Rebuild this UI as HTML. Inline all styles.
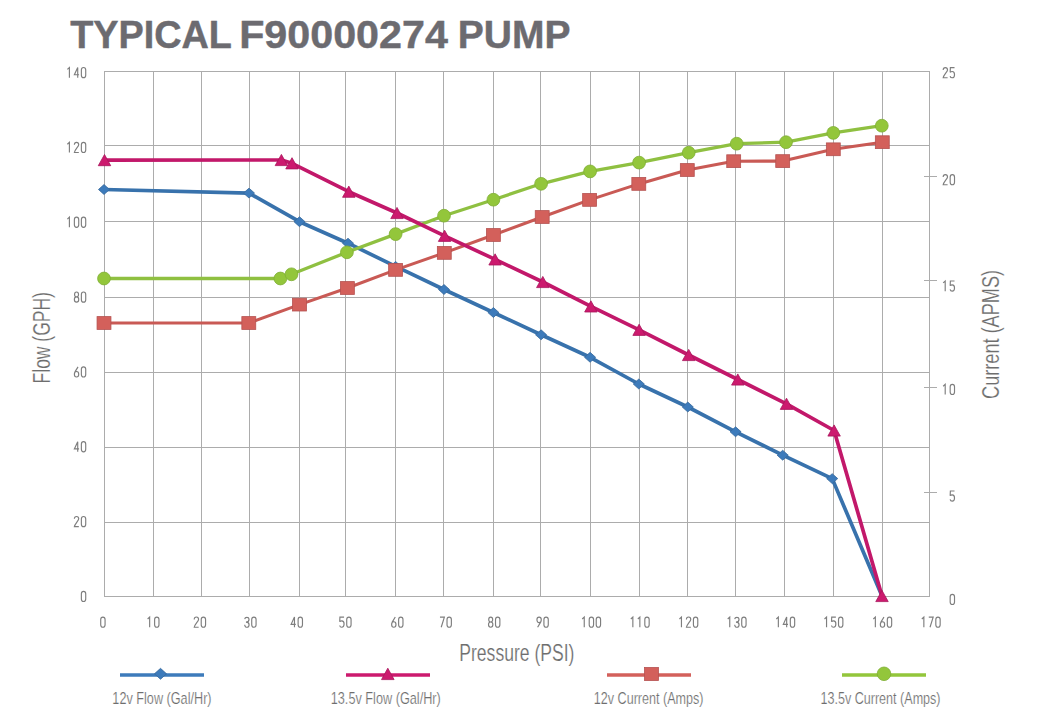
<!DOCTYPE html>
<html><head><meta charset="utf-8"><style>
html,body{margin:0;padding:0;background:#fff;width:1043px;height:727px;overflow:hidden}
svg{display:block;font-family:"Liberation Sans",sans-serif}
</style></head><body>
<svg width="1043" height="727" viewBox="0 0 1043 727">
<text transform="translate(70.13 47.80) scale(0.9596 1)" font-size="39.40" fill="#6c6b70" font-weight="bold" stroke="#6c6b70" stroke-width="0.45">TYPICAL</text><text transform="translate(239.14 47.80) scale(1.0472 1)" font-size="39.40" fill="#6c6b70" font-weight="bold" stroke="#6c6b70" stroke-width="0.45">F90000274</text><text transform="translate(457.79 47.80) scale(0.9904 1)" font-size="39.40" fill="#6c6b70" font-weight="bold" stroke="#6c6b70" stroke-width="0.45">PUMP</text>
<g stroke="#acacac" stroke-width="1" shape-rendering="crispEdges"><line x1="104.5" y1="71" x2="104.5" y2="597"/><line x1="153.5" y1="71" x2="153.5" y2="597"/><line x1="201.5" y1="71" x2="201.5" y2="597"/><line x1="249.5" y1="71" x2="249.5" y2="597"/><line x1="299.5" y1="71" x2="299.5" y2="597"/><line x1="345.5" y1="71" x2="345.5" y2="597"/><line x1="395.5" y1="71" x2="395.5" y2="597"/><line x1="443.5" y1="71" x2="443.5" y2="597"/><line x1="493.5" y1="71" x2="493.5" y2="597"/><line x1="540.5" y1="71" x2="540.5" y2="597"/><line x1="590.5" y1="71" x2="590.5" y2="597"/><line x1="639.5" y1="71" x2="639.5" y2="597"/><line x1="687.5" y1="71" x2="687.5" y2="597"/><line x1="735.5" y1="71" x2="735.5" y2="597"/><line x1="784.5" y1="71" x2="784.5" y2="597"/><line x1="833.5" y1="71" x2="833.5" y2="597"/><line x1="882.5" y1="71" x2="882.5" y2="597"/><line x1="929.5" y1="71" x2="929.5" y2="597"/><line x1="104" y1="71.5" x2="930" y2="71.5"/><line x1="104" y1="145.5" x2="930" y2="145.5"/><line x1="104" y1="221.5" x2="930" y2="221.5"/><line x1="104" y1="297.5" x2="930" y2="297.5"/><line x1="104" y1="372.5" x2="930" y2="372.5"/><line x1="104" y1="447.5" x2="930" y2="447.5"/><line x1="104" y1="522.5" x2="930" y2="522.5"/><line x1="104" y1="596.5" x2="930" y2="596.5"/><line x1="924" y1="176.5" x2="937" y2="176.5"/><line x1="924" y1="280.5" x2="937" y2="280.5"/><line x1="924" y1="387.5" x2="937" y2="387.5"/><line x1="924" y1="492.5" x2="937" y2="492.5"/></g>
<g transform="translate(66.80 66.95) scale(1.0000 1) translate(0.00 0)" fill="none" stroke="#7e7e7e" stroke-width="1.15" stroke-linecap="butt" stroke-linejoin="miter"><path transform="translate(0 0)" d="M 0.57 2.5 L 2.6 0.57 L 2.6 10.73"/><path transform="translate(7 0)" d="M 3.92 10.73 L 3.92 0.57 L 0.57 7.8 L 5.27 7.8"/><path transform="translate(14 0)" d="M 0.57 3.08 A 2.17 2.5 0 0 1 4.92 3.08 L 4.92 8.23 A 2.17 2.5 0 0 1 0.57 8.23 Z"/></g><g transform="translate(66.80 141.78) scale(1.0000 1) translate(0.00 0)" fill="none" stroke="#7e7e7e" stroke-width="1.15" stroke-linecap="butt" stroke-linejoin="miter"><path transform="translate(0 0)" d="M 0.57 2.5 L 2.6 0.57 L 2.6 10.73"/><path transform="translate(7 0)" d="M 0.57 2.9 A 2.17 2.35 0 0 1 4.92 2.9 C 4.92 4.6 0.97 8 0.57 10.73 L 5.02 10.73"/><path transform="translate(14 0)" d="M 0.57 3.08 A 2.17 2.5 0 0 1 4.92 3.08 L 4.92 8.23 A 2.17 2.5 0 0 1 0.57 8.23 Z"/></g><g transform="translate(66.80 216.61) scale(1.0000 1) translate(0.00 0)" fill="none" stroke="#7e7e7e" stroke-width="1.15" stroke-linecap="butt" stroke-linejoin="miter"><path transform="translate(0 0)" d="M 0.57 2.5 L 2.6 0.57 L 2.6 10.73"/><path transform="translate(7 0)" d="M 0.57 3.08 A 2.17 2.5 0 0 1 4.92 3.08 L 4.92 8.23 A 2.17 2.5 0 0 1 0.57 8.23 Z"/><path transform="translate(14 0)" d="M 0.57 3.08 A 2.17 2.5 0 0 1 4.92 3.08 L 4.92 8.23 A 2.17 2.5 0 0 1 0.57 8.23 Z"/></g><g transform="translate(73.80 291.44) scale(1.0000 1) translate(0.00 0)" fill="none" stroke="#7e7e7e" stroke-width="1.15" stroke-linecap="butt" stroke-linejoin="miter"><path transform="translate(0 0)" d="M 2.75 5.5 A 1.97 2.45 0 0 1 2.75 0.57 A 1.97 2.45 0 0 1 2.75 5.5 Z M 2.75 5.5 A 2.17 2.6 0 0 1 2.75 10.73 A 2.17 2.6 0 0 1 2.75 5.5 Z"/><path transform="translate(7 0)" d="M 0.57 3.08 A 2.17 2.5 0 0 1 4.92 3.08 L 4.92 8.23 A 2.17 2.5 0 0 1 0.57 8.23 Z"/></g><g transform="translate(73.80 366.27) scale(1.0000 1) translate(0.00 0)" fill="none" stroke="#7e7e7e" stroke-width="1.15" stroke-linecap="butt" stroke-linejoin="miter"><path transform="translate(0 0)" d="M 4.22 0.57 L 1.02 5.9 M 2.75 10.73 A 2.17 2.75 0 0 1 2.75 5.23 A 2.17 2.75 0 0 1 2.75 10.73 Z"/><path transform="translate(7 0)" d="M 0.57 3.08 A 2.17 2.5 0 0 1 4.92 3.08 L 4.92 8.23 A 2.17 2.5 0 0 1 0.57 8.23 Z"/></g><g transform="translate(73.80 441.10) scale(1.0000 1) translate(0.00 0)" fill="none" stroke="#7e7e7e" stroke-width="1.15" stroke-linecap="butt" stroke-linejoin="miter"><path transform="translate(0 0)" d="M 3.92 10.73 L 3.92 0.57 L 0.57 7.8 L 5.27 7.8"/><path transform="translate(7 0)" d="M 0.57 3.08 A 2.17 2.5 0 0 1 4.92 3.08 L 4.92 8.23 A 2.17 2.5 0 0 1 0.57 8.23 Z"/></g><g transform="translate(73.80 515.93) scale(1.0000 1) translate(0.00 0)" fill="none" stroke="#7e7e7e" stroke-width="1.15" stroke-linecap="butt" stroke-linejoin="miter"><path transform="translate(0 0)" d="M 0.57 2.9 A 2.17 2.35 0 0 1 4.92 2.9 C 4.92 4.6 0.97 8 0.57 10.73 L 5.02 10.73"/><path transform="translate(7 0)" d="M 0.57 3.08 A 2.17 2.5 0 0 1 4.92 3.08 L 4.92 8.23 A 2.17 2.5 0 0 1 0.57 8.23 Z"/></g><g transform="translate(80.80 590.76) scale(1.0000 1) translate(0.00 0)" fill="none" stroke="#7e7e7e" stroke-width="1.15" stroke-linecap="butt" stroke-linejoin="miter"><path transform="translate(0 0)" d="M 0.57 3.08 A 2.17 2.5 0 0 1 4.92 3.08 L 4.92 8.23 A 2.17 2.5 0 0 1 0.57 8.23 Z"/></g><g transform="translate(942.60 67.05) scale(1.0000 1) translate(0.00 0)" fill="none" stroke="#7e7e7e" stroke-width="1.15" stroke-linecap="butt" stroke-linejoin="miter"><path transform="translate(0 0)" d="M 0.57 2.9 A 2.17 2.35 0 0 1 4.92 2.9 C 4.92 4.6 0.97 8 0.57 10.73 L 5.02 10.73"/><path transform="translate(7 0)" d="M 4.92 0.57 L 0.77 0.57 L 0.57 5.3 C 0.9 4.7 1.9 4.4 2.7 4.4 C 4 4.4 4.92 5.5 4.92 7.6 C 4.92 9.7 4 10.73 2.6 10.73 C 1.6 10.73 0.77 10.2 0.52 9"/></g><g transform="translate(942.60 174.05) scale(1.0000 1) translate(0.00 0)" fill="none" stroke="#7e7e7e" stroke-width="1.15" stroke-linecap="butt" stroke-linejoin="miter"><path transform="translate(0 0)" d="M 0.57 2.9 A 2.17 2.35 0 0 1 4.92 2.9 C 4.92 4.6 0.97 8 0.57 10.73 L 5.02 10.73"/><path transform="translate(7 0)" d="M 0.57 3.08 A 2.17 2.5 0 0 1 4.92 3.08 L 4.92 8.23 A 2.17 2.5 0 0 1 0.57 8.23 Z"/></g><g transform="translate(942.60 280.45) scale(1.0000 1) translate(0.00 0)" fill="none" stroke="#7e7e7e" stroke-width="1.15" stroke-linecap="butt" stroke-linejoin="miter"><path transform="translate(0 0)" d="M 0.57 2.5 L 2.6 0.57 L 2.6 10.73"/><path transform="translate(7 0)" d="M 4.92 0.57 L 0.77 0.57 L 0.57 5.3 C 0.9 4.7 1.9 4.4 2.7 4.4 C 4 4.4 4.92 5.5 4.92 7.6 C 4.92 9.7 4 10.73 2.6 10.73 C 1.6 10.73 0.77 10.2 0.52 9"/></g><g transform="translate(942.60 383.75) scale(1.0000 1) translate(0.00 0)" fill="none" stroke="#7e7e7e" stroke-width="1.15" stroke-linecap="butt" stroke-linejoin="miter"><path transform="translate(0 0)" d="M 0.57 2.5 L 2.6 0.57 L 2.6 10.73"/><path transform="translate(7 0)" d="M 0.57 3.08 A 2.17 2.5 0 0 1 4.92 3.08 L 4.92 8.23 A 2.17 2.5 0 0 1 0.57 8.23 Z"/></g><g transform="translate(949.60 490.45) scale(1.0000 1) translate(0.00 0)" fill="none" stroke="#7e7e7e" stroke-width="1.15" stroke-linecap="butt" stroke-linejoin="miter"><path transform="translate(0 0)" d="M 4.92 0.57 L 0.77 0.57 L 0.57 5.3 C 0.9 4.7 1.9 4.4 2.7 4.4 C 4 4.4 4.92 5.5 4.92 7.6 C 4.92 9.7 4 10.73 2.6 10.73 C 1.6 10.73 0.77 10.2 0.52 9"/></g><g transform="translate(949.60 593.75) scale(1.0000 1) translate(0.00 0)" fill="none" stroke="#7e7e7e" stroke-width="1.15" stroke-linecap="butt" stroke-linejoin="miter"><path transform="translate(0 0)" d="M 0.57 3.08 A 2.17 2.5 0 0 1 4.92 3.08 L 4.92 8.23 A 2.17 2.5 0 0 1 0.57 8.23 Z"/></g><g transform="translate(100.15 616.50) scale(1.0000 1) translate(0.00 0)" fill="none" stroke="#7e7e7e" stroke-width="1.15" stroke-linecap="butt" stroke-linejoin="miter"><path transform="translate(0 0)" d="M 0.57 3.08 A 2.17 2.5 0 0 1 4.92 3.08 L 4.92 8.23 A 2.17 2.5 0 0 1 0.57 8.23 Z"/></g><g transform="translate(147.05 616.50) scale(1.0000 1) translate(0.00 0)" fill="none" stroke="#7e7e7e" stroke-width="1.15" stroke-linecap="butt" stroke-linejoin="miter"><path transform="translate(0 0)" d="M 0.57 2.5 L 2.6 0.57 L 2.6 10.73"/><path transform="translate(7 0)" d="M 0.57 3.08 A 2.17 2.5 0 0 1 4.92 3.08 L 4.92 8.23 A 2.17 2.5 0 0 1 0.57 8.23 Z"/></g><g transform="translate(193.65 616.50) scale(1.0000 1) translate(0.00 0)" fill="none" stroke="#7e7e7e" stroke-width="1.15" stroke-linecap="butt" stroke-linejoin="miter"><path transform="translate(0 0)" d="M 0.57 2.9 A 2.17 2.35 0 0 1 4.92 2.9 C 4.92 4.6 0.97 8 0.57 10.73 L 5.02 10.73"/><path transform="translate(7 0)" d="M 0.57 3.08 A 2.17 2.5 0 0 1 4.92 3.08 L 4.92 8.23 A 2.17 2.5 0 0 1 0.57 8.23 Z"/></g><g transform="translate(244.15 616.50) scale(1.0000 1) translate(0.00 0)" fill="none" stroke="#7e7e7e" stroke-width="1.15" stroke-linecap="butt" stroke-linejoin="miter"><path transform="translate(0 0)" d="M 0.57 2.6 A 2.17 2.05 0 0 1 4.88 2.65 C 4.88 4.6 3.6 5.65 1.8 5.65 M 1.8 5.65 C 3.8 5.65 4.92 6.3 4.92 8.2 A 2.17 2.5 0 0 1 0.57 8.3"/><path transform="translate(7 0)" d="M 0.57 3.08 A 2.17 2.5 0 0 1 4.92 3.08 L 4.92 8.23 A 2.17 2.5 0 0 1 0.57 8.23 Z"/></g><g transform="translate(290.55 616.50) scale(1.0000 1) translate(0.00 0)" fill="none" stroke="#7e7e7e" stroke-width="1.15" stroke-linecap="butt" stroke-linejoin="miter"><path transform="translate(0 0)" d="M 3.92 10.73 L 3.92 0.57 L 0.57 7.8 L 5.27 7.8"/><path transform="translate(7 0)" d="M 0.57 3.08 A 2.17 2.5 0 0 1 4.92 3.08 L 4.92 8.23 A 2.17 2.5 0 0 1 0.57 8.23 Z"/></g><g transform="translate(339.15 616.50) scale(1.0000 1) translate(0.00 0)" fill="none" stroke="#7e7e7e" stroke-width="1.15" stroke-linecap="butt" stroke-linejoin="miter"><path transform="translate(0 0)" d="M 4.92 0.57 L 0.77 0.57 L 0.57 5.3 C 0.9 4.7 1.9 4.4 2.7 4.4 C 4 4.4 4.92 5.5 4.92 7.6 C 4.92 9.7 4 10.73 2.6 10.73 C 1.6 10.73 0.77 10.2 0.52 9"/><path transform="translate(7 0)" d="M 0.57 3.08 A 2.17 2.5 0 0 1 4.92 3.08 L 4.92 8.23 A 2.17 2.5 0 0 1 0.57 8.23 Z"/></g><g transform="translate(391.05 616.50) scale(1.0000 1) translate(0.00 0)" fill="none" stroke="#7e7e7e" stroke-width="1.15" stroke-linecap="butt" stroke-linejoin="miter"><path transform="translate(0 0)" d="M 4.22 0.57 L 1.02 5.9 M 2.75 10.73 A 2.17 2.75 0 0 1 2.75 5.23 A 2.17 2.75 0 0 1 2.75 10.73 Z"/><path transform="translate(7 0)" d="M 0.57 3.08 A 2.17 2.5 0 0 1 4.92 3.08 L 4.92 8.23 A 2.17 2.5 0 0 1 0.57 8.23 Z"/></g><g transform="translate(439.45 616.50) scale(1.0000 1) translate(0.00 0)" fill="none" stroke="#7e7e7e" stroke-width="1.15" stroke-linecap="butt" stroke-linejoin="miter"><path transform="translate(0 0)" d="M 0.52 0.57 L 4.92 0.57 L 1.77 10.73"/><path transform="translate(7 0)" d="M 0.57 3.08 A 2.17 2.5 0 0 1 4.92 3.08 L 4.92 8.23 A 2.17 2.5 0 0 1 0.57 8.23 Z"/></g><g transform="translate(487.95 616.50) scale(1.0000 1) translate(0.00 0)" fill="none" stroke="#7e7e7e" stroke-width="1.15" stroke-linecap="butt" stroke-linejoin="miter"><path transform="translate(0 0)" d="M 2.75 5.5 A 1.97 2.45 0 0 1 2.75 0.57 A 1.97 2.45 0 0 1 2.75 5.5 Z M 2.75 5.5 A 2.17 2.6 0 0 1 2.75 10.73 A 2.17 2.6 0 0 1 2.75 5.5 Z"/><path transform="translate(7 0)" d="M 0.57 3.08 A 2.17 2.5 0 0 1 4.92 3.08 L 4.92 8.23 A 2.17 2.5 0 0 1 0.57 8.23 Z"/></g><g transform="translate(536.35 616.50) scale(1.0000 1) translate(0.00 0)" fill="none" stroke="#7e7e7e" stroke-width="1.15" stroke-linecap="butt" stroke-linejoin="miter"><path transform="translate(0 0)" d="M 1.27 10.73 L 4.47 5.4 M 2.75 0.57 A 2.17 2.75 0 0 1 2.75 6.08 A 2.17 2.75 0 0 1 2.75 0.57 Z"/><path transform="translate(7 0)" d="M 0.57 3.08 A 2.17 2.5 0 0 1 4.92 3.08 L 4.92 8.23 A 2.17 2.5 0 0 1 0.57 8.23 Z"/></g><g transform="translate(581.65 616.50) scale(1.0000 1) translate(0.00 0)" fill="none" stroke="#7e7e7e" stroke-width="1.15" stroke-linecap="butt" stroke-linejoin="miter"><path transform="translate(0 0)" d="M 0.57 2.5 L 2.6 0.57 L 2.6 10.73"/><path transform="translate(7 0)" d="M 0.57 3.08 A 2.17 2.5 0 0 1 4.92 3.08 L 4.92 8.23 A 2.17 2.5 0 0 1 0.57 8.23 Z"/><path transform="translate(14 0)" d="M 0.57 3.08 A 2.17 2.5 0 0 1 4.92 3.08 L 4.92 8.23 A 2.17 2.5 0 0 1 0.57 8.23 Z"/></g><g transform="translate(630.25 616.50) scale(1.0000 1) translate(0.00 0)" fill="none" stroke="#7e7e7e" stroke-width="1.15" stroke-linecap="butt" stroke-linejoin="miter"><path transform="translate(0 0)" d="M 0.57 2.5 L 2.6 0.57 L 2.6 10.73"/><path transform="translate(7 0)" d="M 0.57 2.5 L 2.6 0.57 L 2.6 10.73"/><path transform="translate(14 0)" d="M 0.57 3.08 A 2.17 2.5 0 0 1 4.92 3.08 L 4.92 8.23 A 2.17 2.5 0 0 1 0.57 8.23 Z"/></g><g transform="translate(678.85 616.50) scale(1.0000 1) translate(0.00 0)" fill="none" stroke="#7e7e7e" stroke-width="1.15" stroke-linecap="butt" stroke-linejoin="miter"><path transform="translate(0 0)" d="M 0.57 2.5 L 2.6 0.57 L 2.6 10.73"/><path transform="translate(7 0)" d="M 0.57 2.9 A 2.17 2.35 0 0 1 4.92 2.9 C 4.92 4.6 0.97 8 0.57 10.73 L 5.02 10.73"/><path transform="translate(14 0)" d="M 0.57 3.08 A 2.17 2.5 0 0 1 4.92 3.08 L 4.92 8.23 A 2.17 2.5 0 0 1 0.57 8.23 Z"/></g><g transform="translate(727.15 616.50) scale(1.0000 1) translate(0.00 0)" fill="none" stroke="#7e7e7e" stroke-width="1.15" stroke-linecap="butt" stroke-linejoin="miter"><path transform="translate(0 0)" d="M 0.57 2.5 L 2.6 0.57 L 2.6 10.73"/><path transform="translate(7 0)" d="M 0.57 2.6 A 2.17 2.05 0 0 1 4.88 2.65 C 4.88 4.6 3.6 5.65 1.8 5.65 M 1.8 5.65 C 3.8 5.65 4.92 6.3 4.92 8.2 A 2.17 2.5 0 0 1 0.57 8.3"/><path transform="translate(14 0)" d="M 0.57 3.08 A 2.17 2.5 0 0 1 4.92 3.08 L 4.92 8.23 A 2.17 2.5 0 0 1 0.57 8.23 Z"/></g><g transform="translate(775.75 616.50) scale(1.0000 1) translate(0.00 0)" fill="none" stroke="#7e7e7e" stroke-width="1.15" stroke-linecap="butt" stroke-linejoin="miter"><path transform="translate(0 0)" d="M 0.57 2.5 L 2.6 0.57 L 2.6 10.73"/><path transform="translate(7 0)" d="M 3.92 10.73 L 3.92 0.57 L 0.57 7.8 L 5.27 7.8"/><path transform="translate(14 0)" d="M 0.57 3.08 A 2.17 2.5 0 0 1 4.92 3.08 L 4.92 8.23 A 2.17 2.5 0 0 1 0.57 8.23 Z"/></g><g transform="translate(823.95 616.50) scale(1.0000 1) translate(0.00 0)" fill="none" stroke="#7e7e7e" stroke-width="1.15" stroke-linecap="butt" stroke-linejoin="miter"><path transform="translate(0 0)" d="M 0.57 2.5 L 2.6 0.57 L 2.6 10.73"/><path transform="translate(7 0)" d="M 4.92 0.57 L 0.77 0.57 L 0.57 5.3 C 0.9 4.7 1.9 4.4 2.7 4.4 C 4 4.4 4.92 5.5 4.92 7.6 C 4.92 9.7 4 10.73 2.6 10.73 C 1.6 10.73 0.77 10.2 0.52 9"/><path transform="translate(14 0)" d="M 0.57 3.08 A 2.17 2.5 0 0 1 4.92 3.08 L 4.92 8.23 A 2.17 2.5 0 0 1 0.57 8.23 Z"/></g><g transform="translate(872.75 616.50) scale(1.0000 1) translate(0.00 0)" fill="none" stroke="#7e7e7e" stroke-width="1.15" stroke-linecap="butt" stroke-linejoin="miter"><path transform="translate(0 0)" d="M 0.57 2.5 L 2.6 0.57 L 2.6 10.73"/><path transform="translate(7 0)" d="M 4.22 0.57 L 1.02 5.9 M 2.75 10.73 A 2.17 2.75 0 0 1 2.75 5.23 A 2.17 2.75 0 0 1 2.75 10.73 Z"/><path transform="translate(14 0)" d="M 0.57 3.08 A 2.17 2.5 0 0 1 4.92 3.08 L 4.92 8.23 A 2.17 2.5 0 0 1 0.57 8.23 Z"/></g><g transform="translate(921.25 616.50) scale(1.0000 1) translate(0.00 0)" fill="none" stroke="#7e7e7e" stroke-width="1.15" stroke-linecap="butt" stroke-linejoin="miter"><path transform="translate(0 0)" d="M 0.57 2.5 L 2.6 0.57 L 2.6 10.73"/><path transform="translate(7 0)" d="M 0.52 0.57 L 4.92 0.57 L 1.77 10.73"/><path transform="translate(14 0)" d="M 0.57 3.08 A 2.17 2.5 0 0 1 4.92 3.08 L 4.92 8.23 A 2.17 2.5 0 0 1 0.57 8.23 Z"/></g><text transform="translate(49.90 383.43) rotate(-90) scale(0.7347 1)" font-size="23.80" fill="#6e6e6e" stroke="#fff" stroke-width="0.20">Flow (GPH)</text><text transform="translate(999.30 398.92) rotate(-90) scale(0.7688 1)" font-size="23.60" fill="#6e6e6e" stroke="#fff" stroke-width="0.20">Current (APMS)</text><text transform="translate(459.26 661.40) scale(0.7446 1)" font-size="23.60" fill="#6e6e6e" stroke="#fff" stroke-width="0.20">Pressure (PSI)</text>
<polyline points="104.00,189.50 249.00,193.10 299.50,221.70 348.00,243.20 395.60,266.40 444.00,289.50 493.40,312.50 541.10,334.80 590.10,357.30 638.80,384.00 687.80,407.00 735.60,431.80 782.70,455.20 832.20,478.60 882.00,596.00" fill="none" stroke="#3872ac" stroke-width="3.70" stroke-linejoin="round"/><path d="M104.00 184.56L109.54 189.50L104.00 194.44L98.46 189.50Z" fill="#3d7bbb" stroke="#36689c" stroke-width="0.80"/><path d="M249.00 188.16L254.54 193.10L249.00 198.04L243.46 193.10Z" fill="#3d7bbb" stroke="#36689c" stroke-width="0.80"/><path d="M299.50 216.76L305.04 221.70L299.50 226.64L293.96 221.70Z" fill="#3d7bbb" stroke="#36689c" stroke-width="0.80"/><path d="M348.00 238.26L353.54 243.20L348.00 248.14L342.46 243.20Z" fill="#3d7bbb" stroke="#36689c" stroke-width="0.80"/><path d="M395.60 261.46L401.14 266.40L395.60 271.34L390.06 266.40Z" fill="#3d7bbb" stroke="#36689c" stroke-width="0.80"/><path d="M444.00 284.56L449.54 289.50L444.00 294.44L438.46 289.50Z" fill="#3d7bbb" stroke="#36689c" stroke-width="0.80"/><path d="M493.40 307.56L498.94 312.50L493.40 317.44L487.86 312.50Z" fill="#3d7bbb" stroke="#36689c" stroke-width="0.80"/><path d="M541.10 329.86L546.64 334.80L541.10 339.74L535.56 334.80Z" fill="#3d7bbb" stroke="#36689c" stroke-width="0.80"/><path d="M590.10 352.36L595.64 357.30L590.10 362.24L584.56 357.30Z" fill="#3d7bbb" stroke="#36689c" stroke-width="0.80"/><path d="M638.80 379.06L644.34 384.00L638.80 388.94L633.26 384.00Z" fill="#3d7bbb" stroke="#36689c" stroke-width="0.80"/><path d="M687.80 402.06L693.34 407.00L687.80 411.94L682.26 407.00Z" fill="#3d7bbb" stroke="#36689c" stroke-width="0.80"/><path d="M735.60 426.86L741.14 431.80L735.60 436.74L730.06 431.80Z" fill="#3d7bbb" stroke="#36689c" stroke-width="0.80"/><path d="M782.70 450.26L788.24 455.20L782.70 460.14L777.16 455.20Z" fill="#3d7bbb" stroke="#36689c" stroke-width="0.80"/><path d="M832.20 473.66L837.74 478.60L832.20 483.54L826.66 478.60Z" fill="#3d7bbb" stroke="#36689c" stroke-width="0.80"/><polyline points="104.00,323.00 248.80,323.00 299.50,304.60 347.40,288.00 395.60,269.90 444.30,252.90 493.40,235.00 542.20,217.00 589.60,199.90 638.80,183.90 687.30,170.00 733.70,161.20 782.70,161.10 833.30,149.30 882.30,142.20" fill="none" stroke="#c95a55" stroke-width="3.10" stroke-linejoin="round"/><rect x="97.05" y="316.60" width="13.90" height="12.80" fill="#d3605b" stroke="#b55250" stroke-width="0.80"/><rect x="241.85" y="316.60" width="13.90" height="12.80" fill="#d3605b" stroke="#b55250" stroke-width="0.80"/><rect x="292.55" y="298.20" width="13.90" height="12.80" fill="#d3605b" stroke="#b55250" stroke-width="0.80"/><rect x="340.45" y="281.60" width="13.90" height="12.80" fill="#d3605b" stroke="#b55250" stroke-width="0.80"/><rect x="388.65" y="263.50" width="13.90" height="12.80" fill="#d3605b" stroke="#b55250" stroke-width="0.80"/><rect x="437.35" y="246.50" width="13.90" height="12.80" fill="#d3605b" stroke="#b55250" stroke-width="0.80"/><rect x="486.45" y="228.60" width="13.90" height="12.80" fill="#d3605b" stroke="#b55250" stroke-width="0.80"/><rect x="535.25" y="210.60" width="13.90" height="12.80" fill="#d3605b" stroke="#b55250" stroke-width="0.80"/><rect x="582.65" y="193.50" width="13.90" height="12.80" fill="#d3605b" stroke="#b55250" stroke-width="0.80"/><rect x="631.85" y="177.50" width="13.90" height="12.80" fill="#d3605b" stroke="#b55250" stroke-width="0.80"/><rect x="680.35" y="163.60" width="13.90" height="12.80" fill="#d3605b" stroke="#b55250" stroke-width="0.80"/><rect x="726.75" y="154.80" width="13.90" height="12.80" fill="#d3605b" stroke="#b55250" stroke-width="0.80"/><rect x="775.75" y="154.70" width="13.90" height="12.80" fill="#d3605b" stroke="#b55250" stroke-width="0.80"/><rect x="826.35" y="142.90" width="13.90" height="12.80" fill="#d3605b" stroke="#b55250" stroke-width="0.80"/><rect x="875.35" y="135.80" width="13.90" height="12.80" fill="#d3605b" stroke="#b55250" stroke-width="0.80"/><polyline points="104.00,278.50 280.40,278.50 291.50,274.30 346.90,252.30 395.60,234.10 444.00,215.70 493.40,199.70 541.10,183.80 590.10,171.40 639.10,162.60 688.70,152.70 736.70,143.70 786.00,142.20 833.30,132.90 881.80,125.70" fill="none" stroke="#8fc041" stroke-width="3.30" stroke-linejoin="round"/><circle cx="104.00" cy="278.50" r="6.40" fill="#93c63b" stroke="#7fae35" stroke-width="0.80"/><circle cx="280.40" cy="278.50" r="6.40" fill="#93c63b" stroke="#7fae35" stroke-width="0.80"/><circle cx="291.50" cy="274.30" r="6.40" fill="#93c63b" stroke="#7fae35" stroke-width="0.80"/><circle cx="346.90" cy="252.30" r="6.40" fill="#93c63b" stroke="#7fae35" stroke-width="0.80"/><circle cx="395.60" cy="234.10" r="6.40" fill="#93c63b" stroke="#7fae35" stroke-width="0.80"/><circle cx="444.00" cy="215.70" r="6.40" fill="#93c63b" stroke="#7fae35" stroke-width="0.80"/><circle cx="493.40" cy="199.70" r="6.40" fill="#93c63b" stroke="#7fae35" stroke-width="0.80"/><circle cx="541.10" cy="183.80" r="6.40" fill="#93c63b" stroke="#7fae35" stroke-width="0.80"/><circle cx="590.10" cy="171.40" r="6.40" fill="#93c63b" stroke="#7fae35" stroke-width="0.80"/><circle cx="639.10" cy="162.60" r="6.40" fill="#93c63b" stroke="#7fae35" stroke-width="0.80"/><circle cx="688.70" cy="152.70" r="6.40" fill="#93c63b" stroke="#7fae35" stroke-width="0.80"/><circle cx="736.70" cy="143.70" r="6.40" fill="#93c63b" stroke="#7fae35" stroke-width="0.80"/><circle cx="786.00" cy="142.20" r="6.40" fill="#93c63b" stroke="#7fae35" stroke-width="0.80"/><circle cx="833.30" cy="132.90" r="6.40" fill="#93c63b" stroke="#7fae35" stroke-width="0.80"/><circle cx="881.80" cy="125.70" r="6.40" fill="#93c63b" stroke="#7fae35" stroke-width="0.80"/><polyline points="104.50,160.10 281.40,160.00 292.00,163.30 348.80,191.70 397.00,213.00 444.60,235.80 495.10,259.40 542.80,282.00 590.90,306.40 639.10,329.80 688.70,355.00 737.80,379.50 786.50,403.80 834.10,430.50 882.00,596.00" fill="none" stroke="#c2186a" stroke-width="3.70" stroke-linejoin="round"/><path d="M104.50 154.50L110.73 165.70L98.27 165.70Z" fill="#cc1a6e" stroke="#a8155c" stroke-width="0.80" stroke-linejoin="round"/><path d="M281.40 154.40L287.63 165.60L275.17 165.60Z" fill="#cc1a6e" stroke="#a8155c" stroke-width="0.80" stroke-linejoin="round"/><path d="M292.00 157.70L298.23 168.90L285.77 168.90Z" fill="#cc1a6e" stroke="#a8155c" stroke-width="0.80" stroke-linejoin="round"/><path d="M348.80 186.10L355.03 197.30L342.57 197.30Z" fill="#cc1a6e" stroke="#a8155c" stroke-width="0.80" stroke-linejoin="round"/><path d="M397.00 207.40L403.23 218.60L390.77 218.60Z" fill="#cc1a6e" stroke="#a8155c" stroke-width="0.80" stroke-linejoin="round"/><path d="M444.60 230.20L450.83 241.40L438.37 241.40Z" fill="#cc1a6e" stroke="#a8155c" stroke-width="0.80" stroke-linejoin="round"/><path d="M495.10 253.80L501.33 265.00L488.87 265.00Z" fill="#cc1a6e" stroke="#a8155c" stroke-width="0.80" stroke-linejoin="round"/><path d="M542.80 276.40L549.03 287.60L536.57 287.60Z" fill="#cc1a6e" stroke="#a8155c" stroke-width="0.80" stroke-linejoin="round"/><path d="M590.90 300.80L597.13 312.00L584.67 312.00Z" fill="#cc1a6e" stroke="#a8155c" stroke-width="0.80" stroke-linejoin="round"/><path d="M639.10 324.20L645.33 335.40L632.87 335.40Z" fill="#cc1a6e" stroke="#a8155c" stroke-width="0.80" stroke-linejoin="round"/><path d="M688.70 349.40L694.93 360.60L682.47 360.60Z" fill="#cc1a6e" stroke="#a8155c" stroke-width="0.80" stroke-linejoin="round"/><path d="M737.80 373.90L744.03 385.10L731.57 385.10Z" fill="#cc1a6e" stroke="#a8155c" stroke-width="0.80" stroke-linejoin="round"/><path d="M786.50 398.20L792.73 409.40L780.27 409.40Z" fill="#cc1a6e" stroke="#a8155c" stroke-width="0.80" stroke-linejoin="round"/><path d="M834.10 424.90L840.33 436.10L827.87 436.10Z" fill="#cc1a6e" stroke="#a8155c" stroke-width="0.80" stroke-linejoin="round"/><path d="M882.00 590.40L888.23 601.60L875.77 601.60Z" fill="#cc1a6e" stroke="#a8155c" stroke-width="0.80" stroke-linejoin="round"/>
<line x1="120" y1="674.9" x2="204" y2="674.9" stroke="#3d7bbb" stroke-width="3.5"/><path d="M160.50 668.36L166.54 673.80L160.50 679.24L154.46 673.80Z" fill="#3d7bbb" stroke="#36689c" stroke-width="0.80"/><text transform="translate(112.33 703.80) scale(0.8026 1)" font-size="15.80" fill="#6e6e6e" stroke="#fff" stroke-width="0.20">12v Flow (Gal/Hr)</text><line x1="346" y1="674.9" x2="430" y2="674.9" stroke="#cc1a6e" stroke-width="3.5"/><path d="M387.80 668.20L394.08 679.60L381.52 679.60Z" fill="#cc1a6e" stroke="#a8155c" stroke-width="0.80" stroke-linejoin="round"/><text transform="translate(330.73 703.80) scale(0.8043 1)" font-size="15.80" fill="#6e6e6e" stroke="#fff" stroke-width="0.20">13.5v Flow (Gal/Hr)</text><line x1="607" y1="674.9" x2="691" y2="674.9" stroke="#d3605b" stroke-width="3.5"/><rect x="644.55" y="667.50" width="13.90" height="13.00" fill="#d3605b" stroke="#b55250" stroke-width="0.80"/><text transform="translate(593.84 703.80) scale(0.7961 1)" font-size="15.80" fill="#6e6e6e" stroke="#fff" stroke-width="0.20">12v Current (Amps)</text><line x1="842" y1="674.9" x2="926" y2="674.9" stroke="#93c63b" stroke-width="3.5"/><circle cx="884.00" cy="673.80" r="6.80" fill="#93c63b" stroke="#7fae35" stroke-width="0.80"/><text transform="translate(820.44 703.80) scale(0.7961 1)" font-size="15.80" fill="#6e6e6e" stroke="#fff" stroke-width="0.20">13.5v Current (Amps)</text>
</svg>
</body></html>
